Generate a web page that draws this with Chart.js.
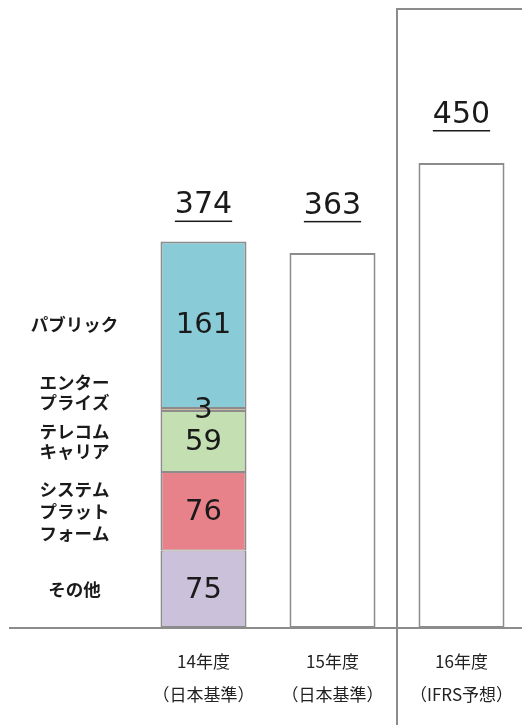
<!DOCTYPE html>
<html>
<head>
<meta charset="utf-8">
<script src="https://cdn.jsdelivr.net/npm/chart.js@4"></script>
<style>
  html, body { margin: 0; padding: 0; background: #fff; overflow: hidden; }
  #wrap { width: 526px; height: 725px; }
</style>
</head>
<body>
<div id="wrap"><canvas id="salesChart"></canvas></div>
<script>
// カテゴリ（先頭は左のラベル列）
const categories = ['', ['14年度', '（日本基準）'], ['15年度', '（日本基準）'], ['16年度', '（IFRS予想）']];

// 14年度の内訳（下から）
const segmentNames = ['その他', ['システム', 'プラット', 'フォーム'], ['テレコム', 'キャリア'], ['エンター', 'プライズ'], 'パブリック'];
const segmentValues = [75, 76, 59, 3, 161];
const segmentColors = ['#CCC1DA', '#E8828A', '#C4DFB1', '#D4B8A0', '#89CCD7'];

// 合計
const totals = [null, 374, 363, 450];

const lineGray = '#8c8c8c';
const numFont = '"DejaVu Sans", "Noto Sans CJK JP", sans-serif';
const jpFont = '"Noto Sans CJK JP", sans-serif';

const datasets = segmentValues.map((v, i) => ({
    label: Array.isArray(segmentNames[i]) ? segmentNames[i].join('') : segmentNames[i],
    data: [null, v, null, null],
    backgroundColor: segmentColors[i],
    borderColor: lineGray,
    borderWidth: { left: 2, right: 2, top: i === segmentValues.length - 1 ? 2 : 1, bottom: i === 0 ? 2 : 1 },
    borderSkipped: false
}));
// 15年度・16年度（内訳なし）
datasets.push({
    label: '合計',
    data: [null, null, totals[2], totals[3]],
    backgroundColor: '#ffffff',
    borderColor: lineGray,
    borderWidth: 2,
    borderSkipped: false
});

// ラベル・枠線の描画
const labelPlugin = {
    id: 'labelPlugin',
    afterDatasetsDraw(chart) {
        const ctx = chart.ctx;
        const x = chart.scales.x;
        const y = chart.scales.y;
        ctx.save();
        ctx.fillStyle = '#1a1a1a';
        ctx.textAlign = 'center';
        ctx.textBaseline = 'middle';

        // 内訳の数値と左側の名称
        segmentValues.forEach((v, i) => {
            const bar = chart.getDatasetMeta(i).data[1];
            const cy = (bar.y + bar.base) / 2;
            ctx.font = '29px ' + numFont;
            ctx.fillText(String(v), bar.x, cy + 1);

            const lines = Array.isArray(segmentNames[i]) ? segmentNames[i] : [segmentNames[i]];
            const lh = lines.length === 3 ? 22 : 20;
            const shift = i === 3 ? -17 : 0;
            ctx.font = 'bold 17.5px ' + jpFont;
            lines.forEach((t, k) => {
                ctx.fillText(t, x.getPixelForValue(0), cy + shift + (k - (lines.length - 1) / 2) * lh);
            });
        });

        // 合計（下線付き）
        const offsets = [0, 36, 47, 48];
        totals.forEach((t, i) => {
            if (t === null) return;
            const px = x.getPixelForValue(i);
            const py = y.getPixelForValue(t) - offsets[i];
            ctx.font = '30px ' + numFont;
            ctx.fillText(String(t), px, py);
            const w = ctx.measureText(String(t)).width;
            ctx.fillRect(px - w / 2, py + 15, w, 1.5);
        });

        // 16年度を囲む枠
        const fx = Math.round(x.getPixelForValue(2.5));
        ctx.strokeStyle = lineGray;
        ctx.lineWidth = 2;
        ctx.beginPath();
        ctx.moveTo(chart.width, chart.chartArea.top + 1);
        ctx.lineTo(fx, chart.chartArea.top + 1);
        ctx.lineTo(fx, chart.height);
        ctx.stroke();
        ctx.restore();
    }
};

window.onload = () => {
    new Chart(document.getElementById('salesChart'), {
        type: 'bar',
        data: { labels: categories, datasets: datasets },
        options: {
            responsive: true,
            maintainAspectRatio: false,
            animation: false,
            layout: { padding: { left: 10, top: 8, right: 0, bottom: 0 } },
            datasets: { bar: { barPercentage: 0.667, categoryPercentage: 1 } },
            plugins: { legend: { display: false }, tooltip: { enabled: false } },
            scales: {
                x: {
                    stacked: true,
                    grid: { display: false, drawTicks: false },
                    border: { display: true, color: lineGray, width: 2 },
                    ticks: {
                        color: '#222',
                        padding: 17,
                        maxRotation: 0,
                        autoSkip: false,
                        font: { family: jpFont, size: 17, lineHeight: 1.95 }
                    },
                    afterFit: (scale) => {
                        scale.height = 97;
                        scale.paddingLeft = 0;
                        scale.paddingRight = 0;
                    }
                },
                y: {
                    stacked: true,
                    display: false,
                    min: 0,
                    max: 600
                }
            }
        },
        plugins: [labelPlugin]
    });
};
</script>
</body>
</html>
